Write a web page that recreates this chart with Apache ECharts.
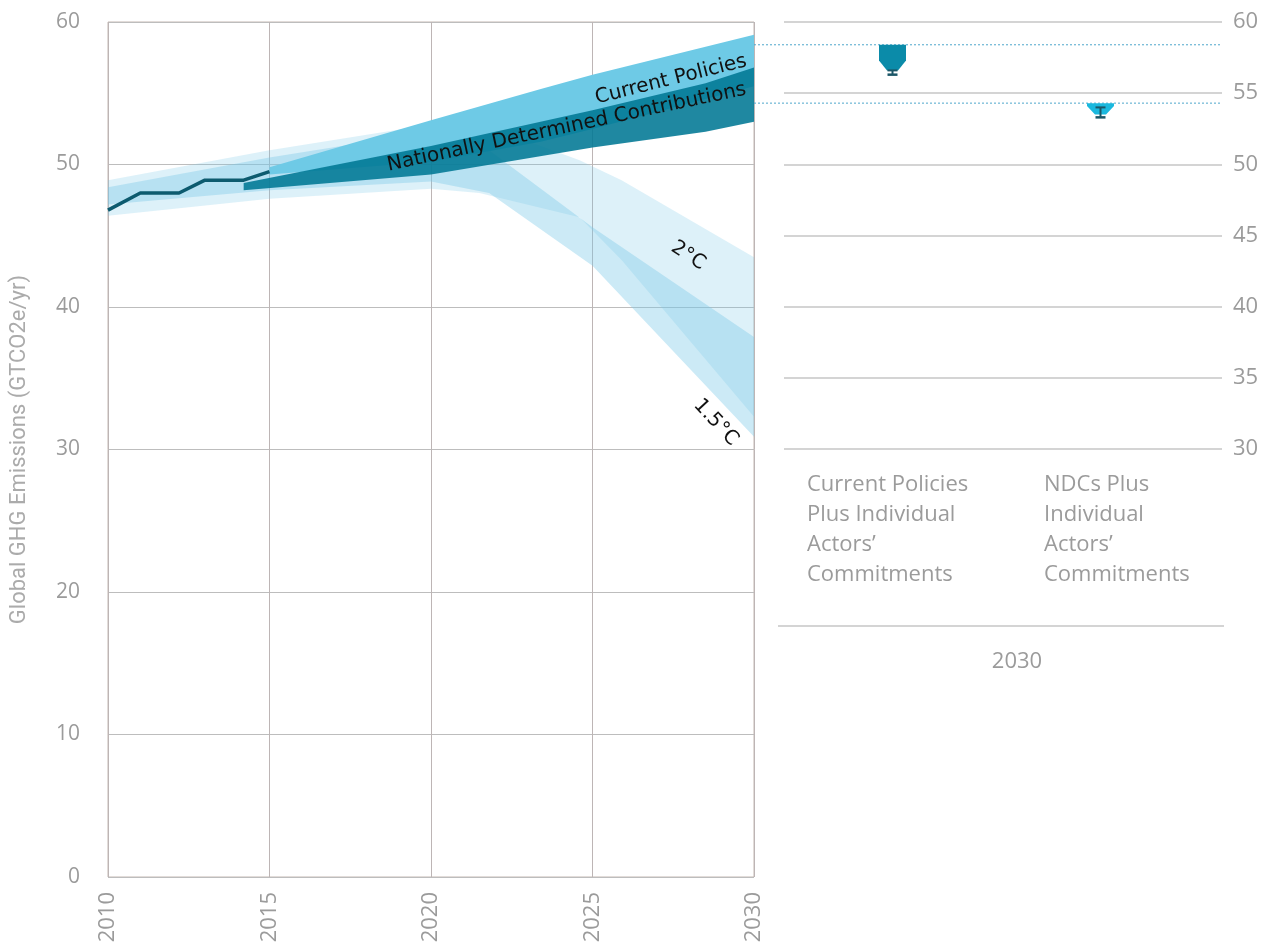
<!DOCTYPE html>
<html>
<head>
<meta charset="utf-8">
<script src="https://cdn.jsdelivr.net/npm/echarts@6/dist/echarts.min.js"></script>
<style>
html,body{margin:0;padding:0;background:#fff;}
#chart{width:1268px;height:950px;}
</style>
</head>
<body>
<div id="chart"></div>
<script>
// ---------- DATA ----------
const xTicks = [2010, 2015, 2020, 2025, 2030];
const yTicksLeft = [0, 10, 20, 30, 40, 50, 60];
const yTicksRight = [30, 35, 40, 45, 50, 55, 60];

// historical emissions
const histYears = [2010, 2011, 2012.2, 2013, 2014.2, 2015];
const histValues = [46.8, 48.0, 48.0, 48.9, 48.9, 49.5];

// 2°C pathway range
const twoDegYears  = [2010, 2015, 2020, 2021.5, 2024.6, 2025.9, 2030];
const twoDegTop    = [48.9, 51.0, 52.8, 52.9, 50.3, 48.9, 43.5];
const twoDegBottom = [46.4, 47.6, 48.3, 48.0, 46.3, 43.3, 32.3];

// 1.5°C pathway range
const oneFiveYears  = [2010, 2015, 2020, 2021.8, 2025, 2030];
const oneFiveTop    = [48.4, 50.5, 52.3, 51.0, 45.6, 37.9];
const oneFiveBottom = [47.2, 48.2, 48.8, 48.0, 42.9, 30.9];

// Current Policies range
const cpYears  = [2015, 2020, 2023.4, 2025, 2030];
const cpTop    = [49.8, 53.1, 55.3, 56.3, 59.1];
const cpBottom = [49.3, 50.2, 51.6, 52.5, 55.5];

// Nationally Determined Contributions range
const ndcYears  = [2014.2, 2020, 2025, 2028.5, 2030];
const ndcTop    = [48.7, 51.3, 53.8, 55.7, 56.8];
const ndcBottom = [48.2, 49.3, 51.2, 52.3, 53.0];

// 2030 markers (right panel)
const markerCategories = ['Current Policies Plus', 'NDCs Plus'];
const markerTop      = [58.4, 54.3];
const markerShoulder = [57.3, 54.1];
const markerTip      = [56.6, 53.5];
const errHigh        = [56.6, 54.0];
const errLow         = [56.3, 53.3];

const markerLabels = [
  'Current Policies\nPlus Individual\nActors\u2019\nCommitments',
  'NDCs Plus\nIndividual\nActors\u2019\nCommitments'
];

// ---------- STYLE / LAYOUT ----------
const L = {left:108, top:22, width:646, height:855};
const R = {left:784, top:22, width:438, height:427};
const grey = '#9b9b9b';
const font = '"Open Sans", "DejaVu Sans", sans-serif';
const markerColors = ['#0b8ba9', '#1ab8de'];

function band(name, xs, top, bottom, color, z) {
  return {
    type: 'custom', name: name, xAxisIndex: 0, yAxisIndex: 0, z: z, silent: true,
    clip: true,
    encode: {x: 0, y: [1, 2]},
    data: xs.map((x, i) => [x, top[i], bottom[i]]),
    renderItem: function (params, api) {
      if (params.dataIndex !== 0) return;
      const pts = [];
      for (let i = 0; i < xs.length; i++) pts.push(api.coord([xs[i], top[i]]));
      for (let i = xs.length - 1; i >= 0; i--) pts.push(api.coord([xs[i], bottom[i]]));
      return {type: 'polygon', shape: {points: pts}, style: {fill: color}};
    }
  };
}

const chart = echarts.init(document.getElementById('chart'), null, {renderer: 'canvas'});

const option = {
  backgroundColor: '#ffffff',
  animation: false,
  grid: [
    {left: L.left, top: L.top, width: L.width, height: L.height, show: true, borderColor: '#c4b8b3', borderWidth: 1, backgroundColor: 'transparent'},
    {left: R.left, top: R.top, width: R.width, height: R.height}
  ],
  xAxis: [
    {type: 'value', gridIndex: 0, min: xTicks[0], max: xTicks[xTicks.length - 1], interval: 5,
     axisLine: {show: false}, axisTick: {show: false},
     splitLine: {show: true, lineStyle: {color: '#bdb5b5', width: 1}},
     axisLabel: {rotate: 90, fontSize: 22, color: grey, fontFamily: font, margin: 15,
                 formatter: v => String(v)}},
    {type: 'category', gridIndex: 1, data: markerCategories, show: false}
  ],
  yAxis: [
    {type: 'value', gridIndex: 0, min: 0, max: 60, interval: 10,
     axisLine: {show: false}, axisTick: {show: false},
     splitLine: {show: true, lineStyle: {color: '#bdbdbd', width: 1}},
     axisLabel: {fontSize: 21, color: grey, fontFamily: font, margin: 28},
     name: 'Global GHG Emissions (GTCO2e/yr)', nameLocation: 'middle', nameRotate: 90, nameGap: 78,
     nameTextStyle: {fontSize: 22, color: '#ababab', fontFamily: 'Roboto, sans-serif'}},
    {type: 'value', gridIndex: 1, min: 30, max: 60, interval: 5, position: 'right',
     axisLine: {show: false}, axisTick: {show: false},
     splitLine: {show: true, lineStyle: {color: '#c6c6c6', width: 1.5}},
     axisLabel: {fontSize: 22, color: grey, fontFamily: font, margin: 11}}
  ],
  series: [
    band('2°C', twoDegYears, twoDegTop, twoDegBottom, 'rgba(120,200,232,0.25)', 2),
    band('1.5°C', oneFiveYears, oneFiveTop, oneFiveBottom, 'rgba(120,200,232,0.38)', 3),
    band('Current Policies', cpYears, cpTop, cpBottom, '#6ecae6', 4),
    band('Nationally Determined Contributions', ndcYears, ndcTop, ndcBottom, 'rgba(0,120,148,0.88)', 5),
    {type: 'line', name: 'Historical', xAxisIndex: 0, yAxisIndex: 0, z: 6,
     data: histYears.map((x, i) => [x, histValues[i]]),
     symbol: 'none', lineStyle: {color: '#0d5b6f', width: 3.5}},
    {type: 'custom', name: '2030 markers', xAxisIndex: 1, yAxisIndex: 1, z: 6,
     encode: {x: 0, y: [1, 2, 3, 4, 5]},
     data: markerCategories.map((c, i) => [i, markerTop[i], markerShoulder[i], markerTip[i], errHigh[i], errLow[i]]),
     renderItem: function (params, api) {
       const c = api.value(0);
       const x = api.coord([c, api.value(1)])[0] - (params.dataIndex === 1 ? 12 : 1);
       const yT = api.coord([c, api.value(1)])[1];
       const yS = api.coord([c, api.value(2)])[1];
       const yP = api.coord([c, api.value(3)])[1];
       const yH = api.coord([c, api.value(4)])[1];
       const yL = api.coord([c, api.value(5)])[1];
       const hw = 13.5, tw = 5.5, ew = 5;
       const ec = '#1b5667';
       return {type: 'group', children: [
         {type: 'polygon', shape: {points: [[x - hw, yT], [x + hw, yT], [x + hw, yS], [x + tw, yP], [x - tw, yP], [x - hw, yS]]},
          style: {fill: markerColors[params.dataIndex]}},
         {type: 'line', shape: {x1: x, y1: yH, x2: x, y2: yL}, style: {stroke: ec, lineWidth: 2}},
         {type: 'line', shape: {x1: x - ew, y1: yH, x2: x + ew, y2: yH}, style: {stroke: ec, lineWidth: 2}},
         {type: 'line', shape: {x1: x - ew, y1: yL, x2: x + ew, y2: yL}, style: {stroke: ec, lineWidth: 2.5}}
       ]};
     }}
  ]
};
chart.setOption(option);

// ---------- annotations using the chart's own scales ----------
const annotations = [
  {text: 'Current Policies', at: [2027.43, 55.95], angle: 14, size: 20},
  {text: 'Nationally Determined Contributions', at: [2024.2, 52.6], angle: 12, size: 20},
  {text: '2°C', at: [2027.96, 43.6], angle: -33, size: 20},
  {text: '1.5°C', at: [2028.82, 31.9], angle: -47, size: 20}
];
const graphics = [];
annotations.forEach(a => {
  const p = chart.convertToPixel({xAxisIndex: 0, yAxisIndex: 0}, a.at);
  graphics.push({type: 'text', x: p[0], y: p[1], rotation: a.angle * Math.PI / 180, z: 20,
    style: {text: a.text, fill: '#111', font: a.size + 'px "DejaVu Sans", sans-serif',
            align: 'center', verticalAlign: 'middle', textAlign: 'center', textVerticalAlign: 'middle'}});
});
// dotted guide lines from the 2030 edge to the right panel at marker tops
const x2030 = chart.convertToPixel({xAxisIndex: 0, yAxisIndex: 0}, [2030, 0])[0];
markerTop.forEach(v => {
  const y = chart.convertToPixel({yAxisIndex: 1}, v);
  graphics.push({type: 'line', z: 3, shape: {x1: x2030, y1: y, x2: R.left + R.width, y2: y},
    style: {stroke: '#4fa6cb', lineWidth: 1, lineDash: [2, 2]}});
});
// category labels under right panel
const labelX = [807, 1044];
markerLabels.forEach((t, i) => {
  graphics.push({type: 'text', x: labelX[i], y: 470, z: 20,
    style: {text: t, fill: grey, font: '22px ' + font, lineHeight: 30,
            align: 'left', verticalAlign: 'top', textAlign: 'left', textVerticalAlign: 'top'}});
});
graphics.push({type: 'line', shape: {x1: 778, y1: 626, x2: 1224, y2: 626}, style: {stroke: '#c6c6c6', lineWidth: 1.5}});
graphics.push({type: 'text', x: 1017, y: 662, z: 20,
  style: {text: '2030', fill: grey, font: '22px ' + font, align: 'center', verticalAlign: 'middle',
          textAlign: 'center', textVerticalAlign: 'middle'}});
chart.setOption({graphic: graphics});
</script>
</body>
</html>
